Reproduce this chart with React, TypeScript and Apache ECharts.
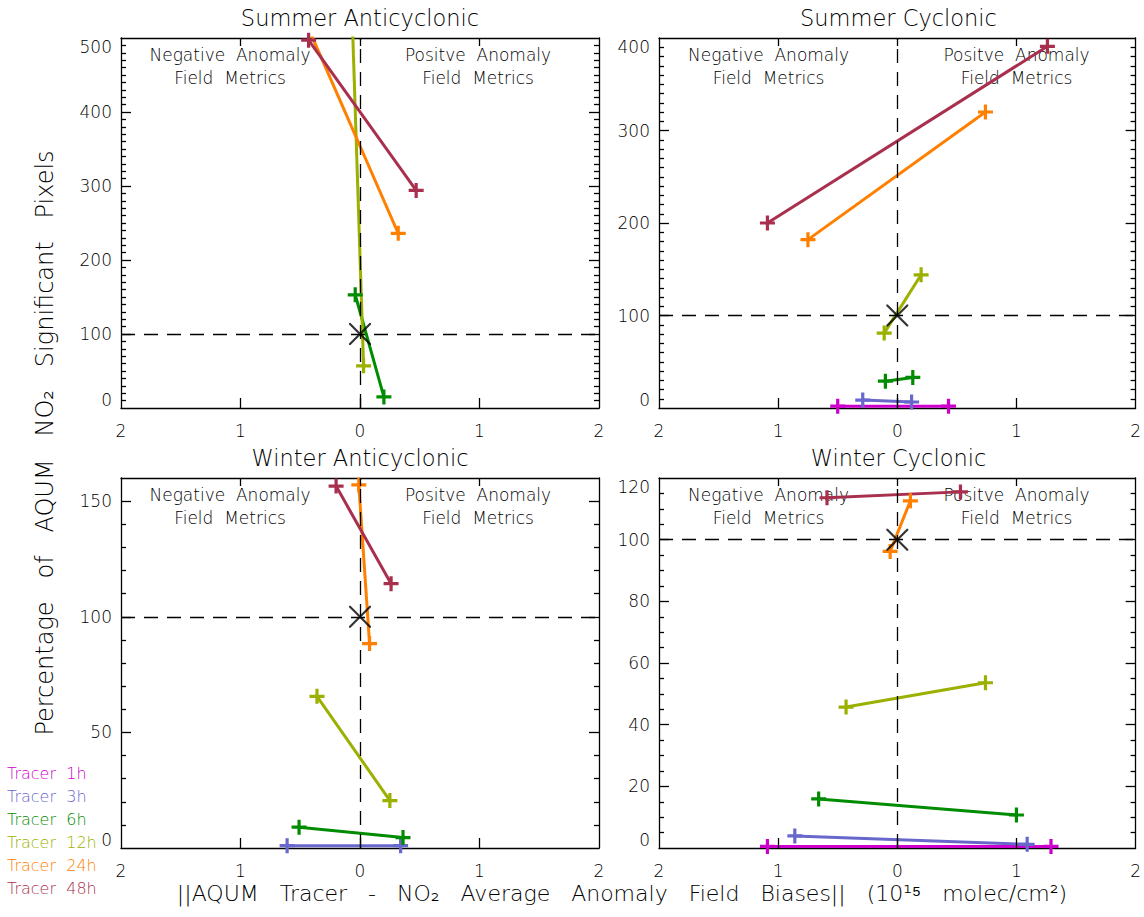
import React, { useEffect, useRef } from "react";
import * as echarts from "echarts";

// ---------------- data ----------------
const tracerNames = ["Tracer 1h", "Tracer 3h", "Tracer 6h", "Tracer 12h", "Tracer 24h", "Tracer 48h"];
const tracerColors = ["#cc00cc", "#6868cc", "#008c00", "#9cb000", "#ff8000", "#a8304e"];

const panelTitles = ["Summer Anticyclonic", "Summer Cyclonic", "Winter Anticyclonic", "Winter Cyclonic"];
const yMaxes = [500, 400, 160, 120];
const yMajorSteps = [100, 100, 50, 20];
const yMinorSteps = [10, 10, 10, 5];
const xTickValues = [-1, 0, 1];

// each row (per tracer): [negative-metric bias, negative-metric %, positive-metric bias, positive-metric %]
const summerAnticyclonic: (number[] | null)[] = [
  null,
  null,
  [-0.04, 153, 0.2, 15],
  [-0.1, 700, 0.03, 57],
  [-0.45, 520, 0.32, 236],
  [-0.43, 497, 0.47, 294],
];
const summerCyclonic: (number[] | null)[] = [
  [-0.5, 2, 0.43, 2],
  [-0.29, 8.6, 0.12, 6.5],
  [-0.1, 29, 0.13, 33],
  [-0.11, 81, 0.2, 144],
  [-0.75, 182, 0.74, 320],
  [-1.09, 200, 1.26, 391],
];
const winterAnticyclonic: (number[] | null)[] = [
  null,
  [-0.61, 1, 0.34, 1],
  [-0.51, 9, 0.36, 4.5],
  [-0.36, 65.6, 0.25, 20.5],
  [-0.01, 157, 0.08, 88.4],
  [-0.2, 156.5, 0.26, 114.3],
];
const winterCyclonic: (number[] | null)[] = [
  [-1.09, 0.5, 1.29, 0.5],
  [-0.86, 3.9, 1.09, 1.2],
  [-0.66, 15.9, 1.0, 10.7],
  [-0.43, 45.7, 0.74, 53.6],
  [-0.06, 96.2, 0.11, 112.6],
  [-0.59, 113.6, 0.53, 115.5],
];
const panels = [summerAnticyclonic, summerCyclonic, winterAnticyclonic, winterCyclonic];

const referencePoint = [0, 100];
const negText = "Negative  Anomaly\nField  Metrics";
const posText = "Positve  Anomaly\nField  Metrics";
const yTitle = "Percentage   of   AQUM   NO₂   Significant   Pixels";
const xTitle = "||AQUM   Tracer   -   NO₂   Average   Anomaly   Field   Biases||   (10¹⁵   molec/cm²)";

// ---------------- layout ----------------
const GRIDS = [
  { left: 121, top: 38, width: 478, height: 370 },
  { left: 659, top: 38, width: 479, height: 370 },
  { left: 121, top: 478, width: 478, height: 370 },
  { left: 659, top: 478, width: 479, height: 370 },
];
const FONT = '"DejaVu Sans", sans-serif';
const FW = 200;
const PLUS = "path://M5.5,0H8.5V5.5H14V8.5H8.5V14H5.5V8.5H0V5.5H5.5Z";
const CROSS =
  "path://M0,0L1.4,0L20,18.6L20,20L18.6,20L0,1.4Z M20,0L20,1.4L1.4,20L0,20L0,18.6L18.6,0Z";
const MAJOR_LEN = 10;
const MINOR_LEN = 5;
const TOP_LEN = 8;

function buildOption() {
  const xAxis: any[] = [];
  const yAxis: any[] = [];
  const series: any[] = [];
  const graphic: any[] = [];
  const axisLine = { show: true, onZero: false, lineStyle: { color: "#000", width: 1.3 } };

  GRIDS.forEach((g, i) => {
    const yMax = yMaxes[i];
    const major = yMajorSteps[i];
    xAxis.push({
      type: "value",
      gridIndex: i,
      position: "bottom",
      min: -2,
      max: 2,
      interval: 1,
      axisLine,
      axisTick: { show: false },
      axisLabel: {
        show: true,
        margin: 14,
        fontSize: 17,
        fontWeight: FW,
        fontFamily: FONT,
        color: "#000",
        formatter: (v: number) => String(Math.abs(v)),
      },
      splitLine: { show: false },
    });
    xAxis.push({
      type: "value",
      gridIndex: i,
      position: "top",
      min: -2,
      max: 2,
      interval: 1,
      axisLine,
      axisTick: { show: false },
      axisLabel: { show: false },
      splitLine: { show: false },
    });
    ["left", "right"].forEach((side) => {
      yAxis.push({
        type: "value",
        gridIndex: i,
        position: side,
        min: 0,
        max: yMax,
        interval: major,
        axisLine,
        axisTick: { show: false },
        axisLabel: {
          show: side === "left",
          margin: 9,
          fontSize: 17,
          fontWeight: FW,
          fontFamily: FONT,
          color: "#000",
          verticalAlignMinLabel: "bottom",
          verticalAlignMaxLabel: "top",
          formatter: (v: number) => (v % major === 0 ? String(v) : ""),
        },
        splitLine: { show: false },
      });
    });

    // tick marks on all four sides, as short mark-line segments in data space
    const pxPerX = g.width / 4;
    const pxPerY = g.height / yMax;
    const tickSegs: any[] = [];
    for (let v = yMinorSteps[i]; v < yMax - 1e-9; v += yMinorSteps[i]) {
      const len = (v % major === 0 ? MAJOR_LEN : MINOR_LEN) / pxPerX;
      tickSegs.push([{ coord: [-2, v] }, { coord: [-2 + len, v] }]);
      tickSegs.push([{ coord: [2, v] }, { coord: [2 - len, v] }]);
    }
    xTickValues.forEach((v) => {
      tickSegs.push([{ coord: [v, 0] }, { coord: [v, MAJOR_LEN / pxPerY] }]);
      tickSegs.push([{ coord: [v, yMax] }, { coord: [v, yMax - TOP_LEN / pxPerY] }]);
    });

    // reference lines + "X" marker + ticks
    series.push({
      type: "scatter",
      name: "ref" + i,
      xAxisIndex: 2 * i,
      yAxisIndex: 2 * i,
      data: [referencePoint],
      symbol: CROSS,
      symbolSize: 22,
      itemStyle: { color: "#000" },
      z: 4,
      silent: true,
      markLine: {
        silent: true,
        symbol: "none",
        label: { show: false },
        lineStyle: { color: "#000", width: 1.3, type: "solid" },
        emphasis: { disabled: true },
        data: [
          { xAxis: referencePoint[0], lineStyle: { color: "#000", width: 1.3, type: [14, 9] } },
          { yAxis: referencePoint[1], lineStyle: { color: "#000", width: 1.3, type: [14, 9] } },
          ...tickSegs,
        ],
      },
    });

    panels[i].forEach((row, t) => {
      if (!row) return;
      series.push({
        type: "line",
        name: tracerNames[t],
        xAxisIndex: 2 * i,
        yAxisIndex: 2 * i,
        data: [
          [row[0], row[1]],
          [row[2], row[3]],
        ],
        symbol: PLUS,
        symbolSize: 15,
        showSymbol: true,
        clip: true,
        lineStyle: { color: tracerColors[t], width: 3 },
        itemStyle: { color: tracerColors[t] },
        emphasis: { disabled: true },
        z: 3,
      });
    });

    graphic.push({
      type: "text",
      x: g.left + g.width / 2,
      y: g.top - 20,
      style: {
        text: panelTitles[i],
        font: `${FW} 22.5px ${FONT}`,
        fill: "#000",
        align: "center",
        verticalAlign: "middle",
        textAlign: "center",
        textVerticalAlign: "middle",
      },
    });
    const cx0 = g.left + g.width / 2;
    [
      { text: negText, x: cx0 - 130 },
      { text: posText, x: cx0 + 118 },
    ].forEach((a) => {
      graphic.push({
        type: "text",
        x: a.x,
        y: g.top + 28,
        style: {
          text: a.text,
          font: `${FW} 17px ${FONT}`,
          lineHeight: 23,
          fill: "#000",
          align: "center",
          verticalAlign: "middle",
          textAlign: "center",
          textVerticalAlign: "middle",
        },
      });
    });
  });

  graphic.push({
    type: "text",
    x: 45,
    y: 443,
    rotation: Math.PI / 2,
    style: {
      text: yTitle,
      font: `${FW} 24px ${FONT}`,
      fill: "#000",
      align: "center",
      verticalAlign: "middle",
      textAlign: "center",
      textVerticalAlign: "middle",
    },
  });
  graphic.push({
    type: "text",
    x: 622,
    y: 893,
    style: {
      text: xTitle,
      font: `${FW} 22px ${FONT}`,
      fill: "#000",
      align: "center",
      verticalAlign: "middle",
      textAlign: "center",
      textVerticalAlign: "middle",
    },
  });

  return {
    animation: false,
    backgroundColor: "#fff",
    grid: GRIDS.map((g) => ({ ...g, containLabel: false })),
    xAxis,
    yAxis,
    series,
    graphic,
    legend: {
      show: true,
      orient: "vertical",
      left: -3,
      top: 757,
      icon: "none",
      itemWidth: 0,
      itemHeight: 0,
      itemGap: 0,
      selectedMode: false,
      formatter: (name: string) => name.replace(" ", "  "),
      textStyle: { fontSize: 16, fontWeight: FW, fontFamily: FONT, lineHeight: 23 },
      data: tracerNames.map((n, t) => ({ name: n, textStyle: { color: tracerColors[t] } })),
    },
  };
}

export default function App() {
  const ref = useRef<HTMLDivElement>(null);
  useEffect(() => {
    document.body.style.margin = "0";
    if (!ref.current) return;
    const chart = echarts.init(ref.current, undefined, { renderer: "svg" });
    chart.setOption(buildOption() as any);
    return () => chart.dispose();
  }, []);
  return <div ref={ref} style={{ width: 1144, height: 917 }} />;
}
